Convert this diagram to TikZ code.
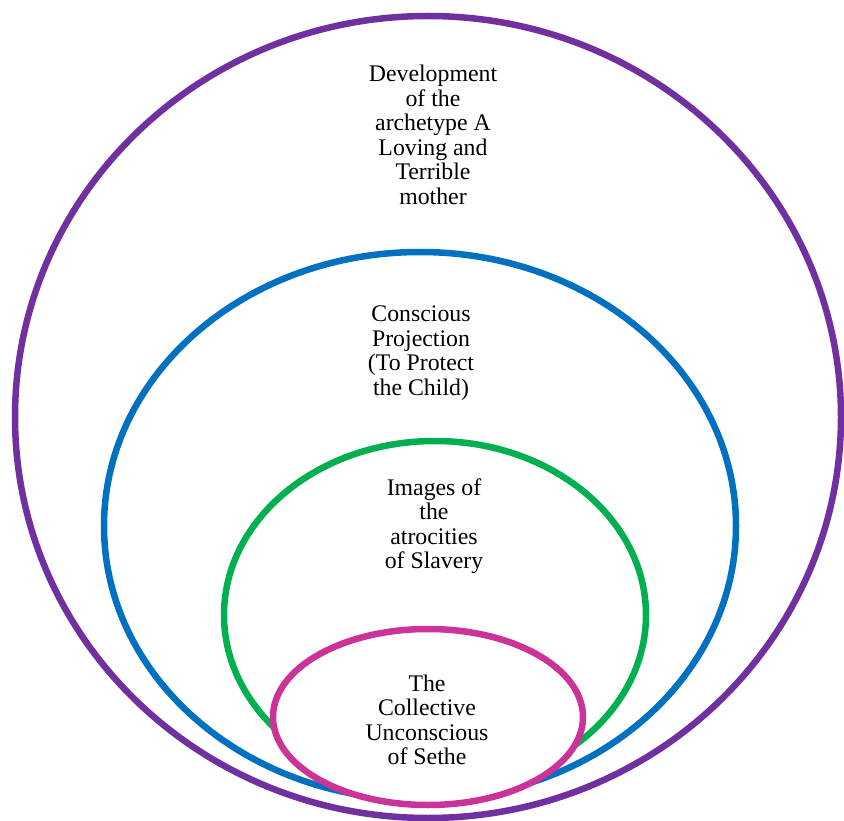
\documentclass[tikz,border=0pt]{standalone}
\usepackage{fontspec}
\setmainfont{Liberation Serif}
\definecolor{ringpurple}{RGB}{112,48,160}
\definecolor{ringblue}{RGB}{0,112,192}
\definecolor{ringgreen}{RGB}{0,176,80}
\definecolor{ringpink}{RGB}{204,51,153}
\tikzset{ring/.style={line width=6.5pt}, lbl/.style={align=center, font=\rmfamily\fontsize{23.8}{24.5}\selectfont, inner sep=0pt}}
\begin{document}
\begin{tikzpicture}[x=1pt, y=-1pt]
    \useasboundingbox (0,0) rectangle (844,821);
    \coordinate (P) at (428,417);
    \coordinate (B) at (420,526);
    \coordinate (G) at (435,615);
    \coordinate (S) at (428,717);
    \draw[ring, ringpurple] (P) ellipse [x radius=413, y radius=401];
    \draw[ring, ringblue] (B) ellipse [x radius=316, y radius=274];
    \draw[ring, ringgreen] (G) ellipse [x radius=211, y radius=174];
    \draw[ring, ringpink, fill=white] (S) ellipse [x radius=155, y radius=88];
    \node[lbl] (dev) at (433,135) {Development\\of the\\archetype A\\Loving and\\Terrible\\mother};
    \node[lbl] (proj) at (421,353) {Conscious\\Projection\\(To Protect\\the Child)};
    \node[lbl] (img) at (434,526) {Images of\\the\\atrocities\\of Slavery};
    \node[lbl] (coll) at (427,720) {The\\Collective\\Unconscious\\of Sethe};
\end{tikzpicture}
\end{document}
